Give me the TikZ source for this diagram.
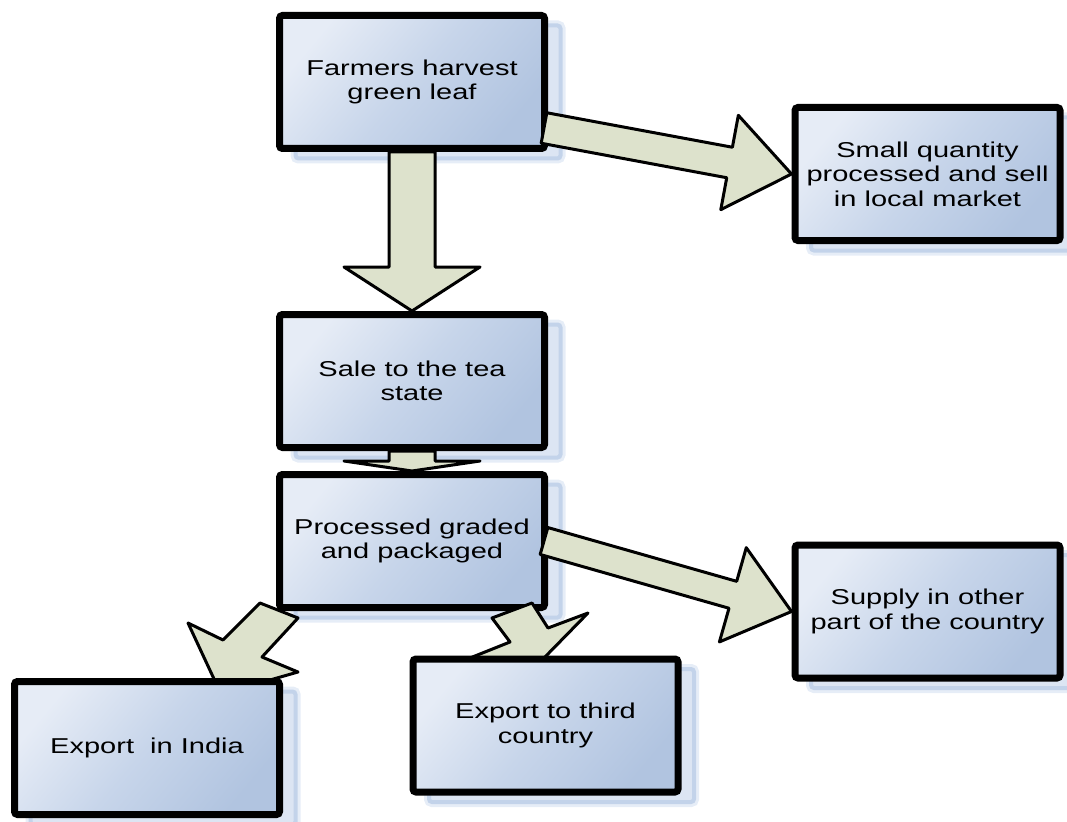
\documentclass[tikz,border=0pt]{standalone}
\usepackage{fontspec}
\setmainfont{Liberation Sans}[FakeStretch=1.35]
\usetikzlibrary{calc,shadows}

\definecolor{boxtop}{HTML}{E6ECF6}
\definecolor{boxmid}{HTML}{C7D5EA}
\definecolor{boxbot}{HTML}{B1C4E0}
\definecolor{shadefill}{HTML}{DCE5F3}
\definecolor{shadeline}{HTML}{C3D3EA}
\definecolor{shadehalo}{HTML}{E6EDF7}
\definecolor{arrowfill}{HTML}{DDE2CC}

\pgfdeclarelayer{front}
\pgfsetlayers{main,front}

\tikzset{
  stage/.style={
    draw=black, line width=7pt, rounded corners=3pt,
    minimum width=265pt, minimum height=133pt, inner sep=0pt,
    top color=boxtop, bottom color=boxbot, middle color=boxmid, shading angle=50,
    align=center, text=black, font=\fontsize{21.5}{24.5}\selectfont,
    general shadow={shadow xshift=16pt, shadow yshift=-10pt, draw=shadehalo, line width=10pt},
    general shadow={shadow xshift=16pt, shadow yshift=-10pt, fill=shadefill, draw=shadeline, line width=4pt}
  },
  flowarrow/.style={draw=black, fill=arrowfill, line width=3pt, line join=round}
}

% block arrow: #1 tail centre, #2 tip, #3 half shaft width, #4 half head width, #5 head length
\newcommand\blockarrow[5]{%
  \coordinate (ba-c) at ($(#2)!#5!(#1)$);
  \draw[flowarrow]
    ($(#1)!#3!-90:(#2)$) -- ($(ba-c)!#3!90:(#1)$) -- ($(ba-c)!#4!90:(#1)$)
    -- (#2)
    -- ($(ba-c)!#4!-90:(#1)$) -- ($(ba-c)!#3!-90:(#1)$) -- ($(#1)!#3!90:(#2)$) -- cycle;
}

\begin{document}
\begin{tikzpicture}[x=1pt, y=-1pt]
\useasboundingbox (0,0) rectangle (1067,821);

% stages that arrows leave from
\node[stage] (harvest) at (412,82) {Farmers harvest\\green leaf};
\node[stage] (sale) at (412,381) {Sale to the tea\\state};
\node[stage] (process) at (412,541) {Processed graded\\and packaged};

% stages that arrows end on
\begin{pgfonlayer}{front}
\node[stage] (local) at (927.5,174) {Small quantity\\processed and sell\\in local market};
\node[stage] (india) at (147,748) {Export~~in India};
\node[stage] (third) at (545.5,725.5) {Export to third\\country};
\node[stage] (supply) at (927.5,611.5) {Supply in other\\part of the country};
\end{pgfonlayer}

% arrows
\coordinate (toLocal) at ($(harvest.east)+(-4,46)$);
\coordinate (toSupply) at ($(process.east)+(-4,0)$);
\blockarrow{harvest.south}{sale.north}{23pt}{68pt}{44pt}
\blockarrow{sale.south}{process.north}{23pt}{68pt}{10pt}
\blockarrow{toLocal}{local.west}{15.5pt}{48pt}{63pt}
\blockarrow{toSupply}{supply.west}{14pt}{49pt}{61pt}

% the two slanted arrows towards the export stages
\draw[flowarrow] (260,603) -- (298,618) -- (262,657) -- (298,672) -- (221,694)
  -- (188,623) -- (223,640) -- cycle;
\draw[flowarrow] (492,618) -- (532,603) -- (548,628) -- (588,613) -- (543,659)
  -- (470,658) -- (510,642) -- cycle;
\end{tikzpicture}
\end{document}
